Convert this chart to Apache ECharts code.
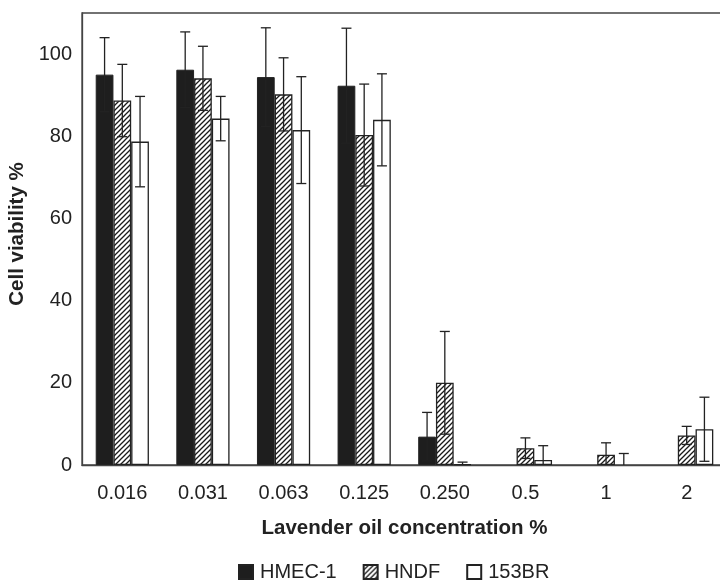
<!DOCTYPE html>
<html>
<head>
<meta charset="utf-8">
<script src="https://cdn.jsdelivr.net/npm/echarts@6/dist/echarts.min.js"></script>
<style>
html,body{margin:0;padding:0;background:#fff;}
#chart{width:720px;height:580px;}
</style>
</head>
<body>
<div id="chart"></div>
<script>
var categories = ['0.016', '0.031', '0.063', '0.125', '0.250', '0.5', '1', '2'];
var seriesNames = ['HMEC-1', 'HNDF', '153BR'];
var hmecVals = [95, 96.2, 94.4, 92.3, 6.9, 0, 0, 0];
var hmecErr = [9, 9.2, 12, 14, 5.9, 0, 0, 0];
var hndfVals = [88.7, 94.1, 90.2, 80.3, 20, 4.1, 2.5, 7.2];
var hndfErr = [8.8, 7.8, 8.9, 12.4, 12.5, 2.5, 2.9, 2.2];
var brVals = [78.7, 84.3, 81.5, 84, 0.2, 1.2, 0, 8.7];
var brErr = [11, 5.4, 13, 11.2, 0.5, 3.5, 2.8, 7.8];
var yTicks = [0, 20, 40, 60, 80, 100];

var ink = '#222';
var font = 'Liberation Sans, Arial, sans-serif';

// hatch pattern "////"
var hatch = document.createElement('canvas');
hatch.width = 5; hatch.height = 5;
var hc = hatch.getContext('2d');
hc.fillStyle = '#fff';
hc.fillRect(0, 0, 5, 5);
hc.strokeStyle = '#1a1a1a';
hc.lineWidth = 1.3;
hc.beginPath();
hc.moveTo(-1, 6); hc.lineTo(6, -1);
hc.moveTo(-1, 1); hc.lineTo(1, -1);
hc.moveTo(4, 6); hc.lineTo(6, 4);
hc.stroke();

var barPct = 0.22;

// zero-height bars are not drawn in the original
function barData(vals) {
    return vals.map(function (v) { return v === 0 ? null : v; });
}

function errSeries(idx, vals, errs) {
    var data = [];
    for (var i = 0; i < vals.length; i++) {
        data.push([i, vals[i], errs[i]]);
    }
    return {
        type: 'custom',
        z: 10,
        silent: true,
        data: data,
        renderItem: function (params, api) {
            var v = api.value(1), e = api.value(2);
            if (!e) return null;
            var band = api.size([1, 0])[0];
            var off = (idx - 1) * band * barPct;
            var hi = api.coord([api.value(0), v + e]);
            var lo = api.coord([api.value(0), Math.max(0, v - e)]);
            var x = hi[0] + off;
            var cap = 5;
            var style = {stroke: ink, lineWidth: 1.3};
            var kids = [
                {type: 'line', shape: {x1: x, y1: hi[1], x2: x, y2: lo[1]}, style: style},
                {type: 'line', shape: {x1: x - cap, y1: hi[1], x2: x + cap, y2: hi[1]}, style: style}
            ];
            if (v - e > 0) {
                kids.push({type: 'line', shape: {x1: x - cap, y1: lo[1], x2: x + cap, y2: lo[1]}, style: style});
            }
            return {type: 'group', children: kids};
        }
    };
}

var chart = echarts.init(document.getElementById('chart'));
chart.setOption({
    animation: false,
    backgroundColor: '#fff',
    textStyle: {fontFamily: font, color: ink},
    grid: {left: 82, top: 13, width: 645, height: 452, outerBoundsMode: 'none', containLabel: false,
        show: true, borderColor: '#444', borderWidth: 1.3},
    legend: {
        top: 557, left: 233,
        icon: 'rect',
        itemWidth: 14, itemHeight: 14, itemGap: 26,
        textStyle: {fontSize: 20, color: ink, fontFamily: font, padding: [0, 0, 0, 2]},
        data: seriesNames
    },
    xAxis: [{
        type: 'category',
        data: categories,
        name: 'Lavender oil concentration %',
        nameLocation: 'middle',
        nameGap: 53,
        nameTextStyle: {fontSize: 20.5, fontWeight: 'bold', color: ink},
        axisLine: {lineStyle: {color: '#444', width: 1.3}},
        axisTick: {length: 6, lineStyle: {color: '#444', width: 1.3}},
        axisLabel: {fontSize: 20, color: ink, margin: 18}
    }, {
        type: 'category',
        data: categories,
        position: 'bottom',
        axisLine: {show: false},
        axisTick: {alignWithLabel: true, length: 6, lineStyle: {color: '#444', width: 1.3}},
        axisLabel: {show: false}
    }],
    yAxis: {
        type: 'value',
        min: 0, max: 110, interval: 20,
        name: 'Cell viability %',
        nameLocation: 'middle',
        nameGap: 53,
        nameTextStyle: {fontSize: 20.5, fontWeight: 'bold', color: ink, padding: [0, 0, 0, 10]},
        axisLine: {show: true, lineStyle: {color: '#444', width: 1.3}},
        axisTick: {show: false},
        splitLine: {show: false},
        axisLabel: {fontSize: 20, color: ink, margin: 10, showMaxLabel: false,
            formatter: function (v) { return yTicks.indexOf(v) >= 0 ? String(v) : ''; }}
    },
    series: [{
        name: seriesNames[0], type: 'bar', data: barData(hmecVals),
        barWidth: '22%', barGap: '0%',
        itemStyle: {color: '#1e1e1e', borderColor: ink, borderWidth: 1}
    }, {
        name: seriesNames[1], type: 'bar', data: barData(hndfVals),
        barWidth: '22%', barGap: '0%',
        itemStyle: {color: {image: hatch, repeat: 'repeat'}, borderColor: ink, borderWidth: 1.3}
    }, {
        name: seriesNames[2], type: 'bar', data: barData(brVals),
        barWidth: '22%', barGap: '0%',
        itemStyle: {color: '#fff', borderColor: ink, borderWidth: 1.3}
    },
        errSeries(0, hmecVals, hmecErr),
        errSeries(1, hndfVals, hndfErr),
        errSeries(2, brVals, brErr)
    ]
});
</script>
</body>
</html>
